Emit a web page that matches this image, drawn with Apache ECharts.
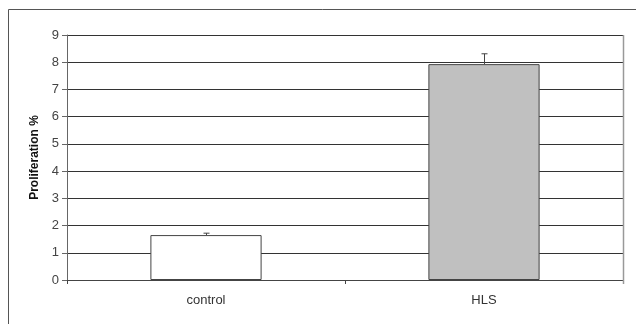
<!DOCTYPE html>
<html><head><meta charset="utf-8">
<script src="https://cdn.jsdelivr.net/npm/echarts@6/dist/echarts.min.js"></script>
<style>html,body{margin:0;padding:0;background:#fff}#c{width:636px;height:324px}</style>
</head><body><div id="c"></div>
<script>
var categories = ['control', 'HLS'];
var values = [1.65, 7.93];
var errors = [0.07, 0.38];
var barColors = ['#ffffff', '#c0c0c0'];
var yTicks = [0, 1, 2, 3, 4, 5, 6, 7, 8, 9];

var chart = echarts.init(document.getElementById('c'));
chart.setOption({
  animation: false,
  graphic: [{
    type: 'rect', shape: {x: 8.5, y: 9.5, width: 700, height: 400},
    style: {fill: 'none', stroke: '#555', lineWidth: 1}, z: -1
  }, {
    type: 'line', shape: {x1: 623.5, y1: 35, x2: 623.5, y2: 284},
    style: {stroke: '#999', lineWidth: 1.5}, z: 10
  }],
  grid: {left: 67, right: 13, top: 35, bottom: 44},
  xAxis: {
    type: 'category', data: categories,
    axisLine: {lineStyle: {color: '#444', width: 1}},
    axisTick: {show: true, length: 4, lineStyle: {color: '#444'}},
    axisLabel: {color: '#333', fontFamily: 'Liberation Sans', fontSize: 13, margin: 14}
  },
  yAxis: {
    type: 'value', min: 0, max: 9, interval: 1,
    name: 'Proliferation %', nameLocation: 'middle', nameGap: 25,
    nameTextStyle: {fontFamily: 'Liberation Sans', fontSize: 12, fontWeight: 'bold', color: '#111'},
    axisLine: {show: true, lineStyle: {color: '#666'}},
    axisTick: {show: true, length: 5, lineStyle: {color: '#666'}},
    axisLabel: {color: '#444', fontFamily: 'Liberation Sans', fontSize: 13, margin: 8,
      formatter: function (v) { return yTicks.indexOf(v) >= 0 ? String(v) : ''; }},
    splitLine: {lineStyle: {color: '#333', width: 1}}
  },
  series: [{
    type: 'bar', barWidth: '40%',
    data: values.map(function (v, i) {
      return {value: v, itemStyle: {color: barColors[i], borderColor: '#444', borderWidth: 1}};
    }),
    z: 2
  }, {
    type: 'custom',
    data: values.map(function (v, i) { return [i, v, v + errors[i]]; }),
    renderItem: function (params, api) {
      var p0 = api.coord([api.value(0), api.value(1)]);
      var p1 = api.coord([api.value(0), api.value(2)]);
      var x = Math.round(p0[0]) + 0.5;
      return {type: 'group', children: [
        {type: 'line', shape: {x1: x, y1: p0[1], x2: x, y2: p1[1]}, style: {stroke: '#444', lineWidth: 1}},
        {type: 'line', shape: {x1: x - 3, y1: p1[1], x2: x + 3, y2: p1[1]}, style: {stroke: '#444', lineWidth: 1}}
      ]};
    },
    z: 3
  }]
});
</script></body></html>
